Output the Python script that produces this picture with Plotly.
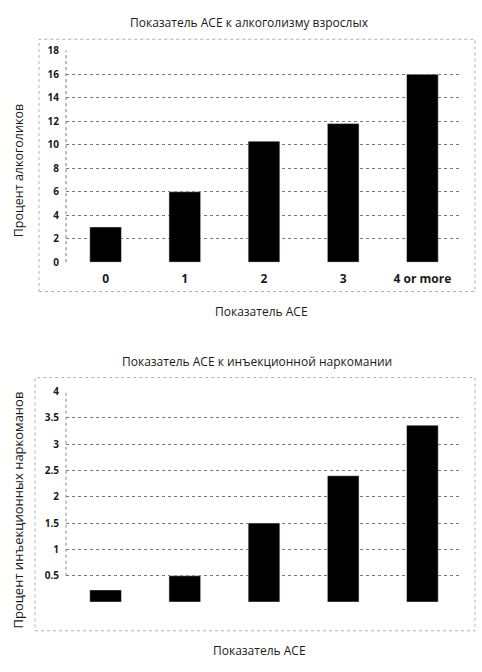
import plotly.graph_objects as go

# ACE score categories
ace_scores = ["0", "1", "2", "3", "4 or more"]

# percent of adult alcoholics per ACE score
alcohol_pct = [3.0, 6.0, 10.3, 11.8, 16.0]

# percent of injection drug users per ACE score
drug_pct = [0.23, 0.5, 1.5, 2.4, 3.36]

top_ticks = [0, 2, 4, 6, 8, 10, 12, 14, 16, 18]
bottom_ticks = [0.5, 1, 1.5, 2, 2.5, 3, 3.5, 4]
bottom_ticktext = ["0.5", "1", "1.5", "2", "2.5", "3", "3.5", "4"]

W, H = 482, 672
txt = "#1a1a1a"
font_family = "Open Sans"

fig = go.Figure()

fig.add_trace(go.Bar(x=ace_scores, y=alcohol_pct, marker_color="black",
                     xaxis="x", yaxis="y", showlegend=False))
fig.add_trace(go.Bar(x=ace_scores, y=drug_pct, marker_color="black",
                     xaxis="x2", yaxis="y2", showlegend=False))

x_dom = [66 / W, 462 / W]
grid = dict(showgrid=True, gridcolor="#777", griddash="dot", gridwidth=1,
            zeroline=False, showline=False, ticks="")

fig.update_layout(
    width=W, height=H,
    margin=dict(l=0, r=0, t=0, b=0),
    paper_bgcolor="white", plot_bgcolor="white",
    font=dict(family=font_family, color=txt),
    bargap=0.6,
    xaxis=dict(domain=x_dom, anchor="y", showgrid=False, showline=False, ticks="",
               tickfont=dict(size=12, color=txt, family=font_family, weight="bold"),
               ticklabelstandoff=8),
    yaxis=dict(domain=[1 - 260 / H, 1 - 43.7 / H], anchor="x", range=[0, 18],
               tickvals=top_ticks, ticklabelstandoff=6,
               tickfont=dict(size=10, color=txt, weight="bold"), **grid),
    xaxis2=dict(domain=x_dom, anchor="y2", showgrid=False, showline=False,
                ticks="", showticklabels=False),
    yaxis2=dict(domain=[1 - 607.6 / H, 1 - 392.3 / H], anchor="x2", range=[0, 4],
                tickvals=bottom_ticks, ticktext=bottom_ticktext, ticklabelstandoff=6,
                tickfont=dict(size=10, color=txt, weight="bold"), **grid),
)

# dotted frames around each chart and left axis lines
for x0, y0, x1, y1 in [(39, 32, 475, 290), (35, 378, 475, 637)]:
    fig.add_shape(type="rect", xref="paper", yref="paper",
                  x0=x0 / W, x1=x1 / W, y0=1 - y1 / H, y1=1 - y0 / H,
                  line=dict(color="#b0b0b0", width=1, dash="dot"))
fig.add_shape(type="line", xref="x domain", yref="y domain", x0=0, x1=0, y0=0, y1=1,
              line=dict(color="#777", width=1, dash="dot"))
fig.add_shape(type="line", xref="x2 domain", yref="y2 domain", x0=0, x1=0, y0=0.125, y1=1,
              line=dict(color="#888", width=1, dash="dot"))

def label(text, x, y, size, angle=0):
    fig.add_annotation(text=text, xref="paper", yref="paper", x=x / W, y=1 - y / H,
                       showarrow=False, textangle=angle, xanchor="center", yanchor="middle",
                       font=dict(size=size, color=txt, family=font_family))

label("Показатель АСЕ к алкоголизму взрослых", 249, 15, 12)
label("Показатель АСЕ", 261, 310, 12)
label("Процент алкоголиков", 18, 167, 12.5, -90)

label("Показатель АСЕ к инъекционной наркомании", 257, 362, 12)
label("Показатель АСЕ", 259, 657, 12)
label("Процент инъекционных наркоманов", 18, 514, 13, -90)

# drop the default page margin so the figure fills the window exactly
fig.write_html("out.html", config={"displayModeBar": False},
               post_script="document.body.style.margin = '0';")
